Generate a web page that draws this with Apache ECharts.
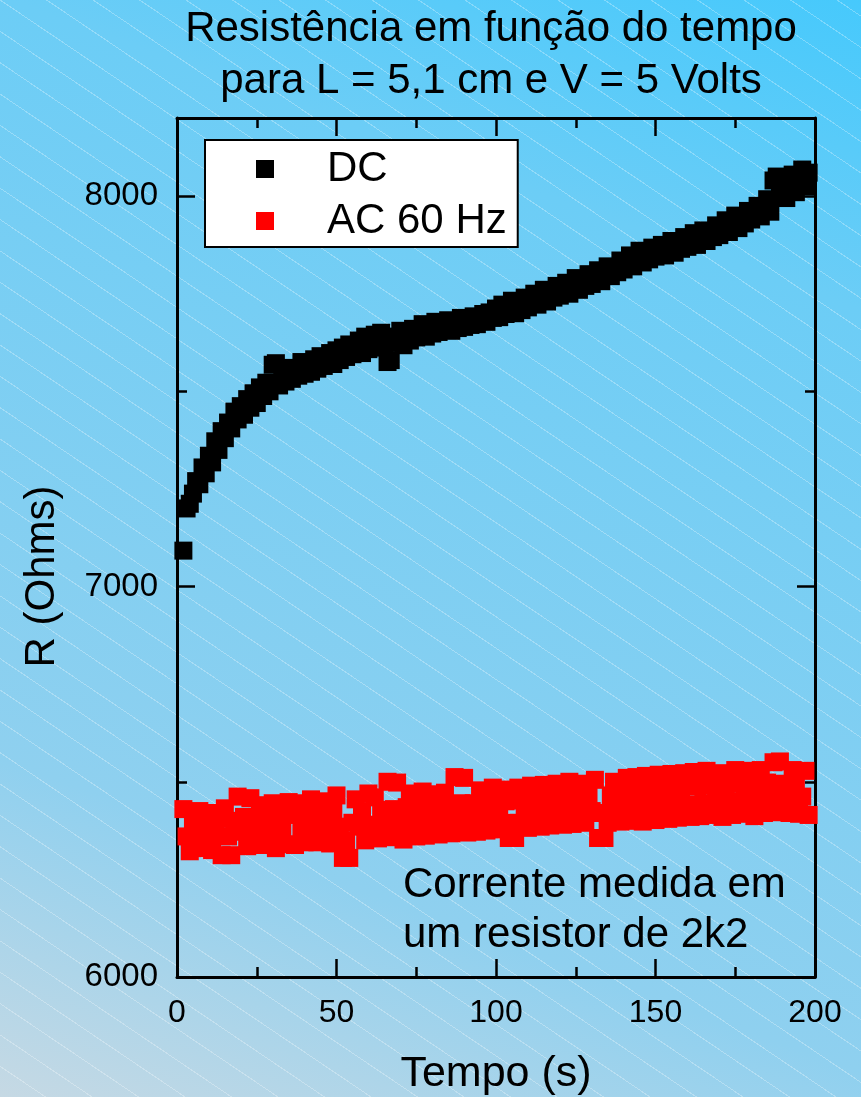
<!DOCTYPE html>
<html>
<head>
<meta charset="utf-8">
<script src="https://cdn.jsdelivr.net/npm/echarts@6/dist/echarts.min.js"></script>
<style>
  html, body { margin: 0; padding: 0; }
  #chart {
    width: 861px; height: 1097px;
    background:
      repeating-linear-gradient(34deg, rgba(255,255,255,0) 0 25px, rgba(255,255,255,0.28) 25px 26px),
      linear-gradient(20deg, #c6d9e4 0%, #8fd0ef 24%, #6ccdf6 78%, #46c9fc 100%);
  }
</style>
</head>
<body>
<div id="chart"></div>
<script>
// tempo (s)
var tempo = [2, 3, 4, 5, 6, 7, 8, 9, 10, 11, 12, 13, 14, 15, 16, 17, 18, 19, 20, 21,
  22, 23, 24, 25, 26, 27, 28, 29, 30, 31, 32, 33, 34, 35, 36, 37, 38, 39, 40, 41,
  42, 43, 44, 45, 46, 47, 48, 49, 50, 51, 52, 53, 54, 55, 56, 57, 58, 59, 60, 61,
  62, 63, 64, 65, 66, 67, 68, 69, 70, 71, 72, 73, 74, 75, 76, 77, 78, 79, 80, 81,
  82, 83, 84, 85, 86, 87, 88, 89, 90, 91, 92, 93, 94, 95, 96, 97, 98, 99, 100, 101,
  102, 103, 104, 105, 106, 107, 108, 109, 110, 111, 112, 113, 114, 115, 116, 117, 118, 119, 120, 121,
  122, 123, 124, 125, 126, 127, 128, 129, 130, 131, 132, 133, 134, 135, 136, 137, 138, 139, 140, 141,
  142, 143, 144, 145, 146, 147, 148, 149, 150, 151, 152, 153, 154, 155, 156, 157, 158, 159, 160, 161,
  162, 163, 164, 165, 166, 167, 168, 169, 170, 171, 172, 173, 174, 175, 176, 177, 178, 179, 180, 181,
  182, 183, 184, 185, 186, 187, 188, 189, 190, 191, 192, 193, 194, 195, 196, 197, 198];

// DC (Ohms)
var resDC = [7092, 7200, 7212, 7238, 7270, 7262, 7305, 7290, 7335, 7318,
  7372, 7350, 7398, 7380, 7420, 7405, 7448, 7428, 7462, 7440,
  7480, 7458, 7495, 7470, 7510, 7488, 7522, 7500, 7568, 7572,
  7515, 7548, 7525, 7560, 7532, 7552, 7540, 7575, 7545, 7570,
  7550, 7582, 7558, 7590, 7565, 7575, 7598, 7570, 7605, 7580,
  7612, 7588, 7620, 7595, 7605, 7630, 7598, 7640, 7608, 7625,
  7645, 7612, 7650, 7620, 7575, 7580, 7640, 7625, 7655, 7618,
  7648, 7630, 7660, 7638, 7652, 7672, 7640, 7665, 7648, 7678,
  7652, 7670, 7660, 7682, 7655, 7675, 7662, 7688, 7665, 7680,
  7670, 7692, 7672, 7685, 7698, 7678, 7702, 7688, 7712, 7690,
  7722, 7698, 7715, 7732, 7700, 7725, 7708, 7740, 7715, 7728,
  7750, 7722, 7742, 7760, 7730, 7755, 7740, 7770, 7745, 7762,
  7778, 7750, 7772, 7790, 7760, 7785, 7770, 7800, 7775, 7795,
  7810, 7782, 7805, 7820, 7795, 7815, 7805, 7835, 7812, 7830,
  7848, 7820, 7842, 7860, 7830, 7855, 7838, 7868, 7845, 7862,
  7875, 7848, 7870, 7885, 7855, 7880, 7865, 7895, 7870, 7888,
  7905, 7875, 7898, 7912, 7885, 7910, 7895, 7925, 7900, 7920,
  7938, 7908, 7930, 7950, 7918, 7945, 7930, 7962, 7940, 7958,
  7975, 7948, 7970, 7992, 7960, 8040, 8050, 8000, 8045, 7995,
  8020, 8055, 8010, 8040, 8068, 8025, 8060];

// AC 60 Hz (Ohms)
var resAC = [6430, 6360, 6322, 6398, 6330, 6425, 6365, 6392, 6420, 6325,
  6368, 6405, 6312, 6432, 6360, 6312, 6400, 6462, 6372, 6410,
  6335, 6458, 6372, 6410, 6440, 6338, 6405, 6368, 6445, 6330,
  6412, 6375, 6340, 6448, 6415, 6338, 6445, 6376, 6345, 6410,
  6455, 6380, 6345, 6418, 6450, 6382, 6342, 6420, 6465, 6385,
  6305, 6350, 6305, 6395, 6455, 6385, 6425, 6350, 6470, 6390,
  6460, 6355, 6428, 6390, 6500, 6358, 6430, 6498, 6392, 6352,
  6435, 6470, 6395, 6360, 6438, 6475, 6362, 6398, 6468, 6432,
  6365, 6400, 6472, 6440, 6368, 6512, 6402, 6445, 6510, 6370,
  6405, 6445, 6372, 6478, 6408, 6375, 6448, 6485, 6378, 6410,
  6480, 6450, 6356, 6395, 6356, 6485, 6452, 6412, 6382, 6490,
  6455, 6415, 6385, 6492, 6458, 6388, 6418, 6495, 6460, 6390,
  6420, 6500, 6392, 6462, 6422, 6495, 6395, 6465, 6425, 6505,
  6356, 6420, 6356, 6395, 6465, 6500, 6430, 6398, 6470, 6510,
  6400, 6432, 6512, 6475, 6398, 6515, 6435, 6478, 6402, 6518,
  6438, 6480, 6405, 6520, 6440, 6408, 6482, 6522, 6442, 6410,
  6525, 6488, 6412, 6445, 6528, 6415, 6490, 6448, 6522, 6410,
  6492, 6450, 6415, 6530, 6495, 6418, 6452, 6528, 6490, 6412,
  6455, 6530, 6420, 6498, 6458, 6550, 6422, 6552, 6495, 6460,
  6420, 6530, 6500, 6418, 6462, 6528, 6415];

var yMajor = [6000, 7000, 8000];
var yMinor = [6500, 7500];

var font = 'Liberation Sans, Arial, sans-serif';

function pares(v) {
  return tempo.map(function (t, i) { return [t, v[i]]; });
}

var chart = echarts.init(document.getElementById('chart'));

var tickX = { show: true, inside: true, length: 18, lineStyle: { color: '#000', width: 2.5 } };
var minorX = { show: true, splitNumber: 2, length: 10, lineStyle: { color: '#000', width: 2.5 } };
var linha = { show: true, lineStyle: { color: '#000', width: 3 } };

function eixoY(pos, ticks, len, comLinha, comLabel) {
  return {
    type: 'value', position: pos, min: 6000, max: 8200, interval: 1000,
    axisLine: comLinha ? linha : { show: false },
    axisTick: { show: true, inside: true, length: len, customValues: ticks, lineStyle: { color: '#000', width: 2.5 } },
    axisLabel: comLabel ? {
      show: true, customValues: yMajor, fontSize: 33, color: '#000', fontFamily: font, margin: 19,
      formatter: function (v) { return String(v); }
    } : { show: false },
    splitLine: { show: false }
  };
}

var yEsq = eixoY('left', yMajor, 18, true, true);
yEsq.name = 'R (Ohms)';
yEsq.nameLocation = 'middle';
yEsq.nameGap = 114;
yEsq.nameTextStyle = { fontSize: 42, color: '#000', fontFamily: font, padding: [0, 58, 0, 0] };

option = {
  backgroundColor: 'transparent',
  animation: false,
  title: {
    text: 'Resistência em função do tempo\npara L = 5,1 cm e V = 5 Volts',
    left: 491, top: 3, padding: 0, textAlign: 'center',
    textStyle: { fontSize: 42, fontWeight: 'normal', color: '#000', fontFamily: font, lineHeight: 52 }
  },
  legend: {
    data: ['DC', 'AC 60 Hz'],
    orient: 'vertical', left: 205, top: 140,
    icon: 'rect', itemWidth: 18, itemHeight: 18, itemGap: 0,
    padding: [3, 11, 0, 51],
    backgroundColor: '#fff', borderColor: '#000', borderWidth: 2, borderRadius: 0,
    textStyle: { fontSize: 42, color: '#000', fontFamily: font, lineHeight: 52, padding: [0, 0, 0, 48] }
  },
  grid: { left: 177, top: 118, width: 638, height: 859, outerBoundsMode: 'none', containLabel: false },
  xAxis: [
    {
      type: 'value', position: 'bottom', min: 0, max: 200, interval: 50,
      axisLine: linha, axisTick: tickX, minorTick: minorX,
      axisLabel: { fontSize: 32, color: '#000', fontFamily: font, margin: 20 },
      splitLine: { show: false },
      name: 'Tempo (s)', nameLocation: 'middle', nameGap: 76,
      nameTextStyle: { fontSize: 43, color: '#000', fontFamily: font }
    },
    {
      type: 'value', position: 'top', min: 0, max: 200, interval: 50,
      axisLine: linha, axisTick: tickX, minorTick: minorX,
      axisLabel: { show: false }, splitLine: { show: false }
    }
  ],
  yAxis: [
    yEsq,
    eixoY('left', yMinor, 10, false, false),
    eixoY('right', yMajor, 18, true, false),
    eixoY('right', yMinor, 10, false, false)
  ],
  graphic: [{
    type: 'text', left: 403, top: 860,
    style: {
      text: 'Corrente medida em\num resistor de 2k2',
      font: '42px ' + font, fill: '#000', lineHeight: 50
    }
  }],
  series: [
    {
      name: 'DC', type: 'scatter', symbol: 'rect', symbolSize: 18,
      itemStyle: { color: '#000', opacity: 1 },
      data: pares(resDC)
    },
    {
      name: 'AC 60 Hz', type: 'scatter', symbol: 'rect', symbolSize: 18,
      itemStyle: { color: '#ff0000', opacity: 1 },
      data: pares(resAC)
    }
  ]
};

chart.setOption(option);
</script>
</body>
</html>
